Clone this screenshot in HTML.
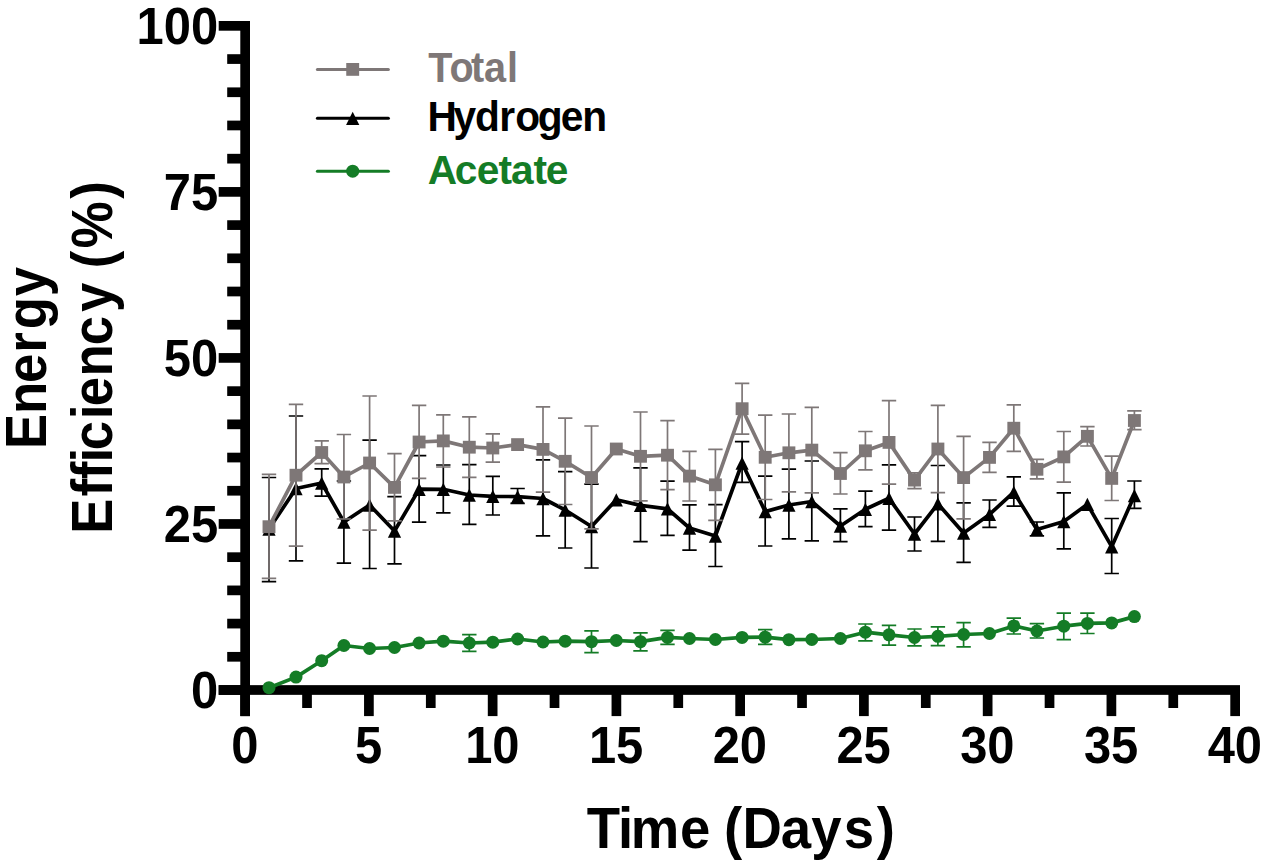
<!DOCTYPE html>
<html><head><meta charset="utf-8"><style>html,body{margin:0;padding:0;background:#fff}svg{display:block}text{font-family:"Liberation Sans",sans-serif;font-weight:bold}</style></head><body>
<svg width="1268" height="867" viewBox="0 0 1268 867">
<rect width="1268" height="867" fill="#fff"/>
<g fill="#000">
<rect x="240.30" y="21" width="9.7" height="695.10"/>
<rect x="218.7" y="685.15" width="1021.30" height="9.7"/>
<rect x="218.7" y="685.15" width="24" height="9.7"/>
<rect x="227.2" y="651.94" width="15" height="9.7"/>
<rect x="227.2" y="618.74" width="15" height="9.7"/>
<rect x="227.2" y="585.53" width="15" height="9.7"/>
<rect x="227.2" y="552.32" width="15" height="9.7"/>
<rect x="218.7" y="519.11" width="24" height="9.7"/>
<rect x="227.2" y="485.90" width="15" height="9.7"/>
<rect x="227.2" y="452.70" width="15" height="9.7"/>
<rect x="227.2" y="419.49" width="15" height="9.7"/>
<rect x="227.2" y="386.28" width="15" height="9.7"/>
<rect x="218.7" y="353.07" width="24" height="9.7"/>
<rect x="227.2" y="319.87" width="15" height="9.7"/>
<rect x="227.2" y="286.66" width="15" height="9.7"/>
<rect x="227.2" y="253.45" width="15" height="9.7"/>
<rect x="227.2" y="220.25" width="15" height="9.7"/>
<rect x="218.7" y="187.04" width="24" height="9.7"/>
<rect x="227.2" y="153.83" width="15" height="9.7"/>
<rect x="227.2" y="120.62" width="15" height="9.7"/>
<rect x="227.2" y="87.41" width="15" height="9.7"/>
<rect x="227.2" y="54.21" width="15" height="9.7"/>
<rect x="218.7" y="21.00" width="24" height="9.7"/>
<rect x="240.30" y="690.0" width="9.7" height="26.10"/>
<rect x="302.17" y="690.0" width="9.7" height="18.00"/>
<rect x="364.05" y="690.0" width="9.7" height="26.10"/>
<rect x="425.92" y="690.0" width="9.7" height="18.00"/>
<rect x="487.80" y="690.0" width="9.7" height="26.10"/>
<rect x="549.67" y="690.0" width="9.7" height="18.00"/>
<rect x="611.55" y="690.0" width="9.7" height="26.10"/>
<rect x="673.42" y="690.0" width="9.7" height="18.00"/>
<rect x="735.30" y="690.0" width="9.7" height="26.10"/>
<rect x="797.17" y="690.0" width="9.7" height="18.00"/>
<rect x="859.05" y="690.0" width="9.7" height="26.10"/>
<rect x="920.92" y="690.0" width="9.7" height="18.00"/>
<rect x="982.80" y="690.0" width="9.7" height="26.10"/>
<rect x="1044.68" y="690.0" width="9.7" height="18.00"/>
<rect x="1106.55" y="690.0" width="9.7" height="26.10"/>
<rect x="1168.43" y="690.0" width="9.7" height="18.00"/>
<rect x="1230.30" y="690.0" width="9.7" height="26.10"/>
</g>
<text id="yt0" transform="translate(218.20,708.20) scale(0.928,1)" font-size="52.7" text-anchor="end" fill="#000">0</text>
<text id="yt25" transform="translate(218.20,542.16) scale(0.928,1)" font-size="52.7" text-anchor="end" fill="#000">25</text>
<text id="yt50" transform="translate(218.20,376.12) scale(0.928,1)" font-size="52.7" text-anchor="end" fill="#000">50</text>
<text id="yt75" transform="translate(218.20,210.09) scale(0.928,1)" font-size="52.7" text-anchor="end" fill="#000">75</text>
<text id="yt100" transform="translate(218.20,44.05) scale(0.928,1)" font-size="52.7" text-anchor="end" fill="#000">100</text>
<text id="xt0" transform="translate(244.85,763.40) scale(0.928,1)" font-size="52.7" text-anchor="middle" fill="#000">0</text>
<text id="xt5" transform="translate(368.60,763.40) scale(0.928,1)" font-size="52.7" text-anchor="middle" fill="#000">5</text>
<text id="xt10" transform="translate(492.35,763.40) scale(0.928,1)" font-size="52.7" text-anchor="middle" fill="#000">10</text>
<text id="xt15" transform="translate(616.10,763.40) scale(0.928,1)" font-size="52.7" text-anchor="middle" fill="#000">15</text>
<text id="xt20" transform="translate(739.85,763.40) scale(0.928,1)" font-size="52.7" text-anchor="middle" fill="#000">20</text>
<text id="xt25" transform="translate(863.60,763.40) scale(0.928,1)" font-size="52.7" text-anchor="middle" fill="#000">25</text>
<text id="xt30" transform="translate(987.35,763.40) scale(0.928,1)" font-size="52.7" text-anchor="middle" fill="#000">30</text>
<text id="xt35" transform="translate(1111.10,763.40) scale(0.928,1)" font-size="52.7" text-anchor="middle" fill="#000">35</text>
<text id="xt40" transform="translate(1234.85,763.40) scale(0.928,1)" font-size="52.7" text-anchor="middle" fill="#000">40</text>
<text id="xtitle" transform="translate(0,847.70) scale(0.9637,1)" font-size="56.6" fill="#000"><tspan x="608.95">T</tspan><tspan x="641.35">i</tspan><tspan x="654.57">m</tspan><tspan x="705.68">e</tspan><tspan x="751.22">(</tspan><tspan x="770.51">D</tspan><tspan x="810.23">a</tspan><tspan x="841.73">y</tspan><tspan x="875.63">s</tspan><tspan x="909.73">)</tspan></text>
<text id="yt1" transform="translate(46.20,0) rotate(-90) scale(0.9322,1)" font-size="56.6" fill="#000"><tspan x="-481.64">E</tspan><tspan x="-444.24">n</tspan><tspan x="-410.97">e</tspan><tspan x="-378.36">r</tspan><tspan x="-353.13">g</tspan><tspan x="-317.68">y</tspan></text>
<text id="yt2" transform="translate(112.20,0) rotate(-90) scale(0.9319,1)" font-size="56.6" fill="#000"><tspan x="-572.85">E</tspan><tspan x="-532.78">f</tspan><tspan x="-514.32">f</tspan><tspan x="-496.36">i</tspan><tspan x="-483.08">c</tspan><tspan x="-449.79">i</tspan><tspan x="-436.05">e</tspan><tspan x="-404.03">n</tspan><tspan x="-370.41">c</tspan><tspan x="-334.79">y</tspan><tspan x="-287.93">(</tspan><tspan x="-266.35">%</tspan><tspan x="-213.38">)</tspan></text>
<line x1="317.4" x2="388.4" y1="69.4" y2="69.4" stroke="#7e7777" stroke-width="3" stroke-linecap="round"/>
<rect x="346.25" y="63.00" width="12.9" height="12.8" fill="#7e7777"/>
<text id="lgTotal" transform="translate(0,82.40) scale(0.9521,1)" font-size="41.6" fill="#7e7777"><tspan x="449.78">T</tspan><tspan x="472.11">o</tspan><tspan x="494.69">t</tspan><tspan x="508.37">a</tspan><tspan x="532.52">l</tspan></text>
<line x1="317.4" x2="388.4" y1="118.2" y2="118.2" stroke="#000" stroke-width="3" stroke-linecap="round"/>
<path d="M352.70 111.70 L359.30 124.90 L346.10 124.90 Z" fill="#000"/>
<text id="lgHydrogen" transform="translate(0,131.20) scale(0.9788,1)" font-size="41.6" fill="#000"><tspan x="436.68">H</tspan><tspan x="463.27">y</tspan><tspan x="485.43">d</tspan><tspan x="510.02">r</tspan><tspan x="526.29">o</tspan><tspan x="549.36">g</tspan><tspan x="573.00">e</tspan><tspan x="594.82">n</tspan></text>
<line x1="317.4" x2="388.4" y1="171.2" y2="171.2" stroke="#147c26" stroke-width="3" stroke-linecap="round"/>
<circle cx="352.70" cy="171.20" r="6.5" fill="#147c26"/>
<text id="lgAcetate" transform="translate(0,184.20) scale(0.9777,1)" font-size="41.6" fill="#147c26"><tspan x="437.44">A</tspan><tspan x="465.16">c</tspan><tspan x="487.50">e</tspan><tspan x="509.99">t</tspan><tspan x="522.56">a</tspan><tspan x="545.69">t</tspan><tspan x="558.28">e</tspan></text>
<path d="M269.00 477.50V581.60M261.80 477.50h14.4M261.80 581.60h14.4M296.00 416.00V560.90M288.80 416.00h14.4M288.80 560.90h14.4M321.70 468.80V496.20M314.50 468.80h14.4M314.50 496.20h14.4M343.90 481.00V563.20M336.70 481.00h14.4M336.70 563.20h14.4M369.60 440.10V568.50M362.40 440.10h14.4M362.40 568.50h14.4M394.50 496.70V563.90M387.30 496.70h14.4M387.30 563.90h14.4M419.10 455.60V522.10M411.90 455.60h14.4M411.90 522.10h14.4M443.30 465.00V512.90M436.10 465.00h14.4M436.10 512.90h14.4M469.30 464.70V524.40M462.10 464.70h14.4M462.10 524.40h14.4M492.80 476.40V515.00M485.60 476.40h14.4M485.60 515.00h14.4M517.60 488.50V503.40M510.40 488.50h14.4M510.40 503.40h14.4M543.00 459.80V535.80M535.80 459.80h14.4M535.80 535.80h14.4M565.20 471.70V548.00M558.00 471.70h14.4M558.00 548.00h14.4M591.50 484.20V568.00M584.30 484.20h14.4M584.30 568.00h14.4M640.50 467.80V541.60M633.30 467.80h14.4M633.30 541.60h14.4M667.50 481.20V535.30M660.30 481.20h14.4M660.30 535.30h14.4M689.50 504.80V550.20M682.30 504.80h14.4M682.30 550.20h14.4M715.40 504.60V566.50M708.20 504.60h14.4M708.20 566.50h14.4M742.10 441.70V482.30M734.90 441.70h14.4M734.90 482.30h14.4M765.20 476.20V546.00M758.00 476.20h14.4M758.00 546.00h14.4M788.90 469.10V538.90M781.70 469.10h14.4M781.70 538.90h14.4M811.80 461.00V540.90M804.60 461.00h14.4M804.60 540.90h14.4M840.40 508.90V541.60M833.20 508.90h14.4M833.20 541.60h14.4M865.40 491.20V526.70M858.20 491.20h14.4M858.20 526.70h14.4M889.00 464.80V530.20M881.80 464.80h14.4M881.80 530.20h14.4M914.50 517.00V551.00M907.30 517.00h14.4M907.30 551.00h14.4M937.90 465.50V541.30M930.70 465.50h14.4M930.70 541.30h14.4M963.60 502.80V562.40M956.40 502.80h14.4M956.40 562.40h14.4M989.50 500.00V527.40M982.30 500.00h14.4M982.30 527.40h14.4M1013.80 476.90V506.10M1006.60 476.90h14.4M1006.60 506.10h14.4M1036.90 522.00V535.80M1029.70 522.00h14.4M1029.70 535.80h14.4M1063.80 492.90V548.90M1056.60 492.90h14.4M1056.60 548.90h14.4M1111.70 518.50V573.50M1104.50 518.50h14.4M1104.50 573.50h14.4M1134.40 481.00V508.40M1127.20 481.00h14.4M1127.20 508.40h14.4" stroke="#000" stroke-width="1.7" fill="none"/><polyline points="269.00,529.00 296.00,488.50 321.70,483.00 343.90,522.00 369.60,505.00 394.50,531.00 419.10,489.20 443.30,489.30 469.30,495.00 492.80,496.30 517.60,496.60 543.00,498.50 565.20,510.00 591.50,526.50 616.30,499.70 640.50,505.40 667.50,508.80 689.50,528.00 715.40,536.00 742.10,463.00 765.20,511.60 788.90,505.00 811.80,501.50 840.40,526.00 865.40,509.30 889.00,498.30 914.50,534.00 937.90,503.80 963.60,533.00 989.50,514.40 1013.80,492.20 1036.90,529.40 1063.80,521.50 1087.40,504.30 1111.70,546.70 1134.40,495.50" stroke="#000" stroke-width="3.7" fill="none" stroke-linejoin="round" stroke-linecap="round"/><path d="M269.00 522.50 L275.60 535.70 L262.40 535.70 Z" fill="#000"/><path d="M296.00 482.00 L302.60 495.20 L289.40 495.20 Z" fill="#000"/><path d="M321.70 476.50 L328.30 489.70 L315.10 489.70 Z" fill="#000"/><path d="M343.90 515.50 L350.50 528.70 L337.30 528.70 Z" fill="#000"/><path d="M369.60 498.50 L376.20 511.70 L363.00 511.70 Z" fill="#000"/><path d="M394.50 524.50 L401.10 537.70 L387.90 537.70 Z" fill="#000"/><path d="M419.10 482.70 L425.70 495.90 L412.50 495.90 Z" fill="#000"/><path d="M443.30 482.80 L449.90 496.00 L436.70 496.00 Z" fill="#000"/><path d="M469.30 488.50 L475.90 501.70 L462.70 501.70 Z" fill="#000"/><path d="M492.80 489.80 L499.40 503.00 L486.20 503.00 Z" fill="#000"/><path d="M517.60 490.10 L524.20 503.30 L511.00 503.30 Z" fill="#000"/><path d="M543.00 492.00 L549.60 505.20 L536.40 505.20 Z" fill="#000"/><path d="M565.20 503.50 L571.80 516.70 L558.60 516.70 Z" fill="#000"/><path d="M591.50 520.00 L598.10 533.20 L584.90 533.20 Z" fill="#000"/><path d="M616.30 493.20 L622.90 506.40 L609.70 506.40 Z" fill="#000"/><path d="M640.50 498.90 L647.10 512.10 L633.90 512.10 Z" fill="#000"/><path d="M667.50 502.30 L674.10 515.50 L660.90 515.50 Z" fill="#000"/><path d="M689.50 521.50 L696.10 534.70 L682.90 534.70 Z" fill="#000"/><path d="M715.40 529.50 L722.00 542.70 L708.80 542.70 Z" fill="#000"/><path d="M742.10 456.50 L748.70 469.70 L735.50 469.70 Z" fill="#000"/><path d="M765.20 505.10 L771.80 518.30 L758.60 518.30 Z" fill="#000"/><path d="M788.90 498.50 L795.50 511.70 L782.30 511.70 Z" fill="#000"/><path d="M811.80 495.00 L818.40 508.20 L805.20 508.20 Z" fill="#000"/><path d="M840.40 519.50 L847.00 532.70 L833.80 532.70 Z" fill="#000"/><path d="M865.40 502.80 L872.00 516.00 L858.80 516.00 Z" fill="#000"/><path d="M889.00 491.80 L895.60 505.00 L882.40 505.00 Z" fill="#000"/><path d="M914.50 527.50 L921.10 540.70 L907.90 540.70 Z" fill="#000"/><path d="M937.90 497.30 L944.50 510.50 L931.30 510.50 Z" fill="#000"/><path d="M963.60 526.50 L970.20 539.70 L957.00 539.70 Z" fill="#000"/><path d="M989.50 507.90 L996.10 521.10 L982.90 521.10 Z" fill="#000"/><path d="M1013.80 485.70 L1020.40 498.90 L1007.20 498.90 Z" fill="#000"/><path d="M1036.90 522.90 L1043.50 536.10 L1030.30 536.10 Z" fill="#000"/><path d="M1063.80 515.00 L1070.40 528.20 L1057.20 528.20 Z" fill="#000"/><path d="M1087.40 497.80 L1094.00 511.00 L1080.80 511.00 Z" fill="#000"/><path d="M1111.70 540.20 L1118.30 553.40 L1105.10 553.40 Z" fill="#000"/><path d="M1134.40 489.00 L1141.00 502.20 L1127.80 502.20 Z" fill="#000"/>
<path d="M269.00 474.40V578.40M261.80 474.40h14.4M261.80 578.40h14.4M296.00 404.40V546.20M288.80 404.40h14.4M288.80 546.20h14.4M321.70 440.90V463.70M314.50 440.90h14.4M314.50 463.70h14.4M343.90 434.50V519.00M336.70 434.50h14.4M336.70 519.00h14.4M369.60 396.00V530.20M362.40 396.00h14.4M362.40 530.20h14.4M394.50 453.60V520.80M387.30 453.60h14.4M387.30 520.80h14.4M419.10 405.40V478.40M411.90 405.40h14.4M411.90 478.40h14.4M443.30 414.80V467.00M436.10 414.80h14.4M436.10 467.00h14.4M469.30 416.80V477.40M462.10 416.80h14.4M462.10 477.40h14.4M492.80 433.80V462.20M485.60 433.80h14.4M485.60 462.20h14.4M543.00 406.90V492.20M535.80 406.90h14.4M535.80 492.20h14.4M565.20 418.10V504.50M558.00 418.10h14.4M558.00 504.50h14.4M591.50 426.00V528.90M584.30 426.00h14.4M584.30 528.90h14.4M640.50 412.00V500.80M633.30 412.00h14.4M633.30 500.80h14.4M667.50 420.60V489.60M660.30 420.60h14.4M660.30 489.60h14.4M689.50 451.30V501.00M682.30 451.30h14.4M682.30 501.00h14.4M715.40 449.30V520.30M708.20 449.30h14.4M708.20 520.30h14.4M742.10 383.30V434.10M734.90 383.30h14.4M734.90 434.10h14.4M765.20 415.10V499.50M758.00 415.10h14.4M758.00 499.50h14.4M788.90 414.00V491.90M781.70 414.00h14.4M781.70 491.90h14.4M811.80 407.40V492.90M804.60 407.40h14.4M804.60 492.90h14.4M840.40 452.60V494.00M833.20 452.60h14.4M833.20 494.00h14.4M865.40 431.50V469.90M858.20 431.50h14.4M858.20 469.90h14.4M889.00 400.60V484.10M881.80 400.60h14.4M881.80 484.10h14.4M914.50 472.80V488.70M907.30 472.80h14.4M907.30 488.70h14.4M937.90 405.40V492.60M930.70 405.40h14.4M930.70 492.60h14.4M963.60 436.30V518.80M956.40 436.30h14.4M956.40 518.80h14.4M989.50 442.40V472.30M982.30 442.40h14.4M982.30 472.30h14.4M1013.80 404.90V451.30M1006.60 404.90h14.4M1006.60 451.30h14.4M1036.90 459.40V478.90M1029.70 459.40h14.4M1029.70 478.90h14.4M1063.80 431.50V482.20M1056.60 431.50h14.4M1056.60 482.20h14.4M1087.40 426.70V446.00M1080.20 426.70h14.4M1080.20 446.00h14.4M1111.70 456.10V500.50M1104.50 456.10h14.4M1104.50 500.50h14.4M1134.40 410.90V429.70M1127.20 410.90h14.4M1127.20 429.70h14.4" stroke="#7e7777" stroke-width="1.7" fill="none"/><polyline points="269.00,526.70 296.00,475.20 321.70,452.50 343.90,477.00 369.60,463.00 394.50,487.40 419.10,442.00 443.30,440.90 469.30,447.20 492.80,448.00 517.60,444.60 543.00,449.40 565.20,461.30 591.50,477.50 616.30,449.00 640.50,456.30 667.50,455.20 689.50,476.10 715.40,484.80 742.10,408.70 765.20,457.30 788.90,452.80 811.80,450.10 840.40,473.50 865.40,450.80 889.00,442.40 914.50,480.10 937.90,449.00 963.60,477.60 989.50,457.40 1013.80,428.20 1036.90,469.30 1063.80,456.90 1087.40,436.30 1111.70,478.40 1134.40,420.50" stroke="#7e7777" stroke-width="3.7" fill="none" stroke-linejoin="round" stroke-linecap="round"/><rect x="262.55" y="520.30" width="12.9" height="12.8" fill="#7e7777"/><rect x="289.55" y="468.80" width="12.9" height="12.8" fill="#7e7777"/><rect x="315.25" y="446.10" width="12.9" height="12.8" fill="#7e7777"/><rect x="337.45" y="470.60" width="12.9" height="12.8" fill="#7e7777"/><rect x="363.15" y="456.60" width="12.9" height="12.8" fill="#7e7777"/><rect x="388.05" y="481.00" width="12.9" height="12.8" fill="#7e7777"/><rect x="412.65" y="435.60" width="12.9" height="12.8" fill="#7e7777"/><rect x="436.85" y="434.50" width="12.9" height="12.8" fill="#7e7777"/><rect x="462.85" y="440.80" width="12.9" height="12.8" fill="#7e7777"/><rect x="486.35" y="441.60" width="12.9" height="12.8" fill="#7e7777"/><rect x="511.15" y="438.20" width="12.9" height="12.8" fill="#7e7777"/><rect x="536.55" y="443.00" width="12.9" height="12.8" fill="#7e7777"/><rect x="558.75" y="454.90" width="12.9" height="12.8" fill="#7e7777"/><rect x="585.05" y="471.10" width="12.9" height="12.8" fill="#7e7777"/><rect x="609.85" y="442.60" width="12.9" height="12.8" fill="#7e7777"/><rect x="634.05" y="449.90" width="12.9" height="12.8" fill="#7e7777"/><rect x="661.05" y="448.80" width="12.9" height="12.8" fill="#7e7777"/><rect x="683.05" y="469.70" width="12.9" height="12.8" fill="#7e7777"/><rect x="708.95" y="478.40" width="12.9" height="12.8" fill="#7e7777"/><rect x="735.65" y="402.30" width="12.9" height="12.8" fill="#7e7777"/><rect x="758.75" y="450.90" width="12.9" height="12.8" fill="#7e7777"/><rect x="782.45" y="446.40" width="12.9" height="12.8" fill="#7e7777"/><rect x="805.35" y="443.70" width="12.9" height="12.8" fill="#7e7777"/><rect x="833.95" y="467.10" width="12.9" height="12.8" fill="#7e7777"/><rect x="858.95" y="444.40" width="12.9" height="12.8" fill="#7e7777"/><rect x="882.55" y="436.00" width="12.9" height="12.8" fill="#7e7777"/><rect x="908.05" y="473.70" width="12.9" height="12.8" fill="#7e7777"/><rect x="931.45" y="442.60" width="12.9" height="12.8" fill="#7e7777"/><rect x="957.15" y="471.20" width="12.9" height="12.8" fill="#7e7777"/><rect x="983.05" y="451.00" width="12.9" height="12.8" fill="#7e7777"/><rect x="1007.35" y="421.80" width="12.9" height="12.8" fill="#7e7777"/><rect x="1030.45" y="462.90" width="12.9" height="12.8" fill="#7e7777"/><rect x="1057.35" y="450.50" width="12.9" height="12.8" fill="#7e7777"/><rect x="1080.95" y="429.90" width="12.9" height="12.8" fill="#7e7777"/><rect x="1105.25" y="472.00" width="12.9" height="12.8" fill="#7e7777"/><rect x="1127.95" y="414.10" width="12.9" height="12.8" fill="#7e7777"/>
<path d="M469.30 634.70V651.30M462.10 634.70h14.4M462.10 651.30h14.4M591.50 630.90V652.60M584.30 630.90h14.4M584.30 652.60h14.4M640.50 632.90V650.80M633.30 632.90h14.4M633.30 650.80h14.4M667.50 630.40V644.30M660.30 630.40h14.4M660.30 644.30h14.4M765.20 629.60V644.30M758.00 629.60h14.4M758.00 644.30h14.4M865.40 624.00V640.90M858.20 624.00h14.4M858.20 640.90h14.4M889.00 625.40V645.10M881.80 625.40h14.4M881.80 645.10h14.4M914.50 629.00V645.90M907.30 629.00h14.4M907.30 645.90h14.4M937.90 626.90V645.60M930.70 626.90h14.4M930.70 645.60h14.4M963.60 622.60V646.90M956.40 622.60h14.4M956.40 646.90h14.4M1013.80 618.10V634.00M1006.60 618.10h14.4M1006.60 634.00h14.4M1036.90 623.70V638.00M1029.70 623.70h14.4M1029.70 638.00h14.4M1063.80 613.10V639.60M1056.60 613.10h14.4M1056.60 639.60h14.4M1087.40 613.10V633.50M1080.20 613.10h14.4M1080.20 633.50h14.4" stroke="#147c26" stroke-width="1.7" fill="none"/><polyline points="269.00,687.70 296.00,677.10 321.70,660.70 343.90,645.50 369.60,648.50 394.50,647.50 419.10,643.00 443.30,641.20 469.30,643.00 492.80,642.20 517.60,639.00 543.00,642.00 565.20,641.20 591.50,641.70 616.30,640.50 640.50,641.70 667.50,637.40 689.50,638.50 715.40,639.50 742.10,637.40 765.20,637.20 788.90,639.70 811.80,639.50 840.40,638.50 865.40,632.20 889.00,634.80 914.50,637.50 937.90,636.30 963.60,634.50 989.50,633.50 1013.80,625.90 1036.90,631.00 1063.80,626.20 1087.40,623.40 1111.70,622.90 1134.40,616.60" stroke="#147c26" stroke-width="3.7" fill="none" stroke-linejoin="round" stroke-linecap="round"/><circle cx="269.00" cy="687.70" r="6.5" fill="#147c26"/><circle cx="296.00" cy="677.10" r="6.5" fill="#147c26"/><circle cx="321.70" cy="660.70" r="6.5" fill="#147c26"/><circle cx="343.90" cy="645.50" r="6.5" fill="#147c26"/><circle cx="369.60" cy="648.50" r="6.5" fill="#147c26"/><circle cx="394.50" cy="647.50" r="6.5" fill="#147c26"/><circle cx="419.10" cy="643.00" r="6.5" fill="#147c26"/><circle cx="443.30" cy="641.20" r="6.5" fill="#147c26"/><circle cx="469.30" cy="643.00" r="6.5" fill="#147c26"/><circle cx="492.80" cy="642.20" r="6.5" fill="#147c26"/><circle cx="517.60" cy="639.00" r="6.5" fill="#147c26"/><circle cx="543.00" cy="642.00" r="6.5" fill="#147c26"/><circle cx="565.20" cy="641.20" r="6.5" fill="#147c26"/><circle cx="591.50" cy="641.70" r="6.5" fill="#147c26"/><circle cx="616.30" cy="640.50" r="6.5" fill="#147c26"/><circle cx="640.50" cy="641.70" r="6.5" fill="#147c26"/><circle cx="667.50" cy="637.40" r="6.5" fill="#147c26"/><circle cx="689.50" cy="638.50" r="6.5" fill="#147c26"/><circle cx="715.40" cy="639.50" r="6.5" fill="#147c26"/><circle cx="742.10" cy="637.40" r="6.5" fill="#147c26"/><circle cx="765.20" cy="637.20" r="6.5" fill="#147c26"/><circle cx="788.90" cy="639.70" r="6.5" fill="#147c26"/><circle cx="811.80" cy="639.50" r="6.5" fill="#147c26"/><circle cx="840.40" cy="638.50" r="6.5" fill="#147c26"/><circle cx="865.40" cy="632.20" r="6.5" fill="#147c26"/><circle cx="889.00" cy="634.80" r="6.5" fill="#147c26"/><circle cx="914.50" cy="637.50" r="6.5" fill="#147c26"/><circle cx="937.90" cy="636.30" r="6.5" fill="#147c26"/><circle cx="963.60" cy="634.50" r="6.5" fill="#147c26"/><circle cx="989.50" cy="633.50" r="6.5" fill="#147c26"/><circle cx="1013.80" cy="625.90" r="6.5" fill="#147c26"/><circle cx="1036.90" cy="631.00" r="6.5" fill="#147c26"/><circle cx="1063.80" cy="626.20" r="6.5" fill="#147c26"/><circle cx="1087.40" cy="623.40" r="6.5" fill="#147c26"/><circle cx="1111.70" cy="622.90" r="6.5" fill="#147c26"/><circle cx="1134.40" cy="616.60" r="6.5" fill="#147c26"/>
</svg></body></html>
